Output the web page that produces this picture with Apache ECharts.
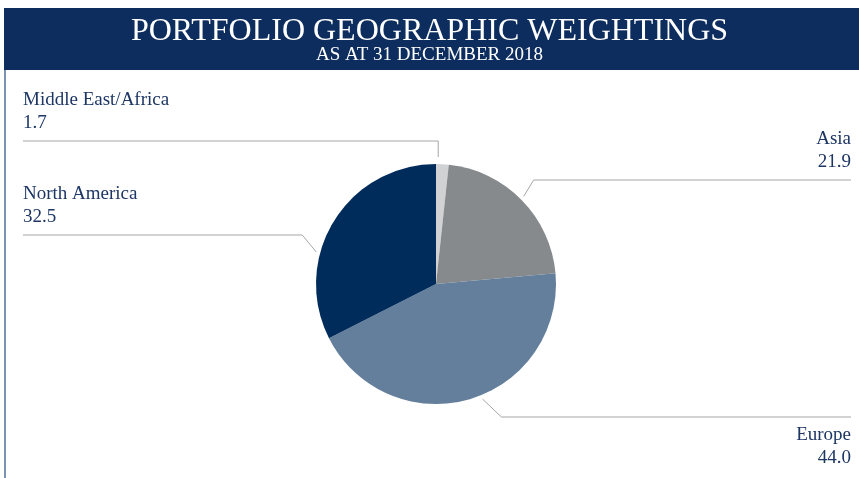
<!DOCTYPE html>
<html>
<head>
<meta charset="utf-8">
<script src="https://cdn.jsdelivr.net/npm/echarts@6/dist/echarts.min.js"></script>
<style>
  html, body { margin: 0; padding: 0; background: #fff; }
  #chart { width: 859px; height: 478px; }
</style>
</head>
<body>
<div id="chart"></div>
<script>
// data
const regions = ['Middle East/Africa', 'Asia', 'Europe', 'North America']
const weights = [1.7, 21.9, 44.0, 32.5]
const sliceColors = ['#d0d2d4', '#878a8d', '#647f9c', '#002c5c']

// where each leader line leaves the pie and where its label sits
const leaderAngle = [1, 45, 158, 285]
const leaderGap = [7, 4, 4, 4]
const leaderY = [141, 180, 417, 235]
const elbowDx = [0, 10, 19, -14]
const labelSide = ['left', 'right', 'right', 'left']

const CX = 436, CY = 284, R = 120
const LEFT_EDGE = 23, RIGHT_EDGE = 851
const serif = '"Liberation Serif", "DejaVu Serif", serif'

let Charts = echarts.init(document.getElementById('chart'))
Charts.setOption({
    animation: false,
    title: {
        text: 'PORTFOLIO GEOGRAPHIC WEIGHTINGS',
        subtext: 'AS AT 31 DECEMBER 2018',
        left: 'center',
        top: 11,
        itemGap: -2,
        textStyle: {
            color: '#fff',
            fontFamily: serif,
            fontWeight: 'normal',
            fontSize: 32
        },
        subtextStyle: {
            color: '#fff',
            fontFamily: serif,
            fontSize: 19
        }
    },
    graphic: [
        {
            type: 'rect',
            z: -1,
            shape: { x: 4, y: 8, width: 855, height: 62 },
            style: { fill: '#0d2d5e' }
        },
        {
            type: 'line',
            shape: { x1: 5, y1: 70, x2: 5, y2: 478 },
            style: { stroke: '#7b93b2', lineWidth: 2 }
        }
    ],
    series: [
        {
            type: 'pie',
            center: [CX, CY],
            radius: R,
            startAngle: 90,
            clockwise: true,
            data: regions.map((name, i) => ({
                name: name,
                value: weights[i],
                itemStyle: { color: sliceColors[i] }
            })),
            label: {
                show: true,
                position: 'outside',
                formatter: p => p.name + '\n' + p.value.toFixed(1),
                color: '#1d3664',
                fontFamily: serif,
                fontSize: 19,
                lineHeight: 23
            },
            labelLine: {
                show: true,
                length: 10,
                length2: 10,
                lineStyle: { color: '#a4a6a8', width: 1 }
            },
            labelLayout: params => {
                const i = params.dataIndex
                const a = leaderAngle[i] * Math.PI / 180
                const r = R + leaderGap[i]
                const start = [CX + r * Math.sin(a), CY - r * Math.cos(a)]
                const elbow = [start[0] + elbowDx[i], leaderY[i]]
                const left = labelSide[i] === 'left'
                const end = [left ? LEFT_EDGE : RIGHT_EDGE, leaderY[i]]
                const below = i === 2
                return {
                    x: end[0],
                    y: below ? leaderY[i] + 7 : leaderY[i] - 6,
                    align: left ? 'left' : 'right',
                    verticalAlign: below ? 'top' : 'bottom',
                    labelLinePoints: [start, elbow, end]
                }
            }
        }
    ]
})
</script>
</body>
</html>
